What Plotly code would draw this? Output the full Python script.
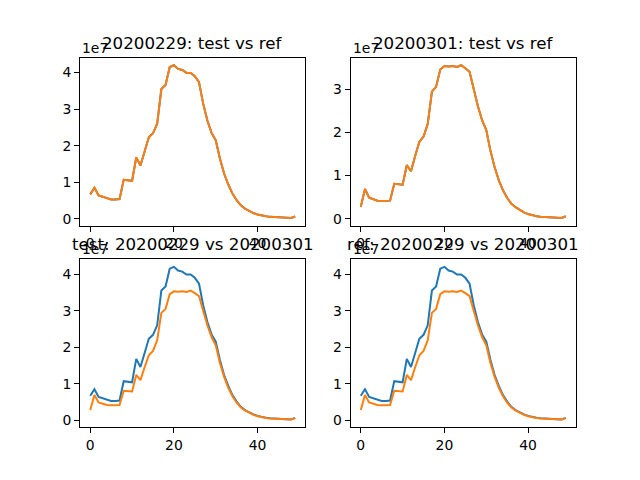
import plotly.graph_objects as go

days = list(range(50))
# values in units of 1e7
a_0229 = [0.67, 0.85, 0.64, 0.61, 0.56, 0.53, 0.53, 0.54, 1.07, 1.05, 1.04, 1.68, 1.46, 1.84, 2.23, 2.34,
          2.60, 3.55, 3.66, 4.15, 4.20, 4.10, 4.07, 3.99, 3.99, 3.90, 3.74, 3.15, 2.69, 2.35, 2.15, 1.65,
          1.24, 0.94, 0.69, 0.51, 0.37, 0.28, 0.21, 0.16, 0.12, 0.09, 0.07, 0.055, 0.045, 0.04, 0.035,
          0.03, 0.025, 0.065]
b_0301 = [0.28, 0.69, 0.49, 0.45, 0.42, 0.41, 0.41, 0.42, 0.81, 0.80, 0.79, 1.24, 1.10, 1.45, 1.78, 1.90,
          2.19, 2.94, 3.05, 3.45, 3.53, 3.52, 3.53, 3.51, 3.55, 3.48, 3.40, 3.00, 2.60, 2.28, 2.05, 1.57,
          1.19, 0.89, 0.66, 0.48, 0.35, 0.27, 0.20, 0.15, 0.11, 0.08, 0.06, 0.05, 0.04, 0.035, 0.03,
          0.025, 0.02, 0.06]
scale = 1e7
test_0229 = [v * scale for v in a_0229]
ref_0229 = [v * scale for v in a_0229]
test_0301 = [v * scale for v in b_0301]
ref_0301 = [v * scale for v in b_0301]

titles = ["20200229: test vs ref", "20200301: test vs ref",
          "test: 20200229 vs 20200301", "ref: 20200229 vs 20200301"]
panels = [(test_0229, ref_0229), (test_0301, ref_0301), (test_0229, test_0301), (ref_0229, ref_0301)]
xticks = [0, 20, 40]

BLUE = "#1f77b4"
ORANGE = "#ff7f0e"
WIN_W, WIN_H = 640, 480
OFF = 8  # page body margin
W, H = WIN_W - OFF, WIN_H - OFF
FONT = "DejaVu Sans"

# matplotlib default subplot geometry in window pixels
left, right, bottom, top = 0.125 * WIN_W, 0.9 * WIN_W, (1 - 0.11) * WIN_H, (1 - 0.88) * WIN_H
aw = (right - left) / 2.2
ah = (bottom - top) / 2.2
boxes = []
for r in range(2):
    for c in range(2):
        x0 = left + c * aw * 1.2 - OFF
        y0 = top + r * ah * 1.2 - OFF
        boxes.append((x0, x0 + aw, y0, y0 + ah))

fig = go.Figure()
annotations = []
for i, ((s1, s2), (x0, x1, y0, y1)) in enumerate(zip(panels, boxes)):
    n = i + 1
    xa = "x" if n == 1 else f"x{n}"
    ya = "y" if n == 1 else f"y{n}"
    fig.add_trace(go.Scatter(x=days, y=s1, mode="lines", line=dict(color=BLUE, width=2),
                             xaxis=xa, yaxis=ya, showlegend=False))
    fig.add_trace(go.Scatter(x=days, y=s2, mode="lines", line=dict(color=ORANGE, width=2),
                             xaxis=xa, yaxis=ya, showlegend=False))
    lo = min(min(s1), min(s2))
    hi = max(max(s1), max(s2))
    pad = (hi - lo) * 0.05
    xpad = (max(days) - min(days)) * 0.05
    ymax_int = int(hi // scale)
    yt = [k * scale for k in range(0, ymax_int + 1)]
    common = dict(showline=True, mirror=True, linecolor="black", linewidth=1,
                  ticks="outside", ticklen=5, tickwidth=1, tickcolor="black",
                  showgrid=False, zeroline=False,
                  tickfont=dict(family=FONT, size=13.9, color="black"))
    fig.layout[("xaxis" if n == 1 else f"xaxis{n}")] = dict(
        domain=[x0 / W, x1 / W], anchor=ya, range=[min(days) - xpad, max(days) + xpad],
        tickvals=xticks, ticktext=[str(t) for t in xticks], **common)
    fig.layout[("yaxis" if n == 1 else f"yaxis{n}")] = dict(
        domain=[1 - y1 / H, 1 - y0 / H], anchor=xa, range=[lo - pad, hi + pad],
        tickvals=yt, ticktext=[str(k) for k in range(0, ymax_int + 1)], **common)
    annotations.append(dict(text=titles[i], x=(x0 + x1) / 2 / W, y=1 - y0 / H, xref="paper", yref="paper",
                            xanchor="center", yanchor="bottom", yshift=3, showarrow=False,
                            font=dict(family=FONT, size=16.67, color="black")))
    annotations.append(dict(text="1e7", x=x0 / W, y=1 - y0 / H, xref="paper", yref="paper",
                            xanchor="left", yanchor="bottom", yshift=0, showarrow=False,
                            font=dict(family=FONT, size=13.9, color="black")))

fig.update_layout(width=W, height=H, margin=dict(l=0, r=0, t=0, b=0),
                  paper_bgcolor="white", plot_bgcolor="white", annotations=annotations,
                  font=dict(family=FONT))
fig.write_html("out.html")
